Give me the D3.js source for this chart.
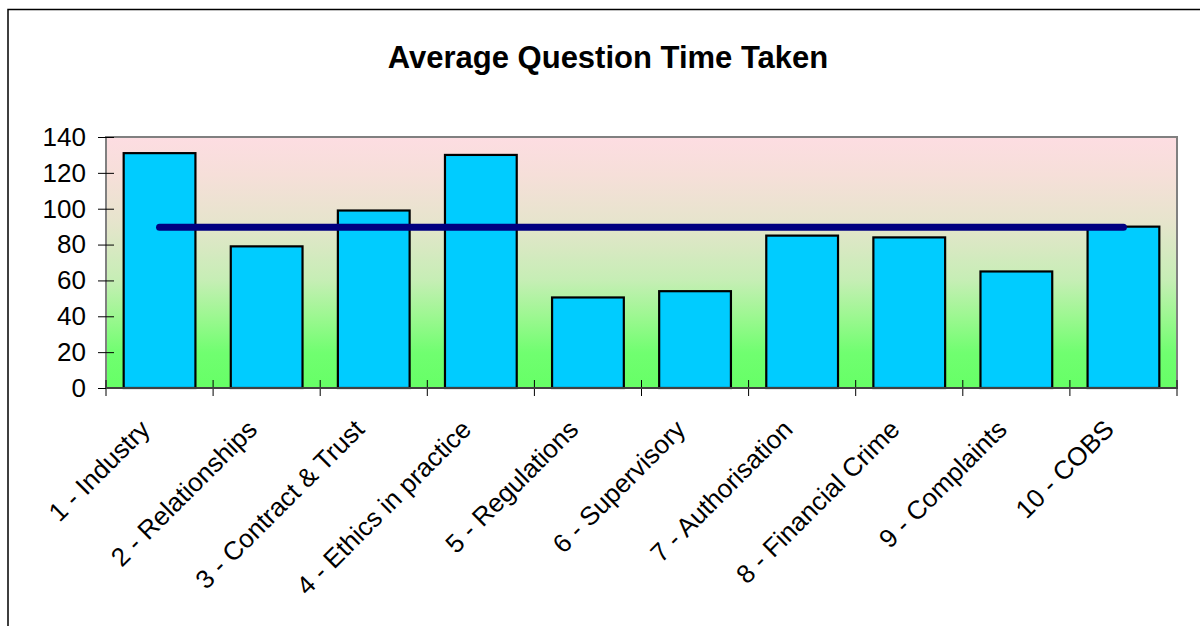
<!DOCTYPE html>
<html>
<head>
<meta charset="utf-8">
<script src="https://cdn.jsdelivr.net/npm/d3@7"></script>
<style>
  html, body { margin: 0; padding: 0; background: #fff; }
  svg { display: block; font-family: "Liberation Sans", Arial, sans-serif; }
</style>
</head>
<body>
<div id="app"></div>
<script>
// chart data
const categories = [
  "1 - Industry", "2 - Relationships", "3 - Contract & Trust", "4 - Ethics in practice",
  "5 - Regulations", "6 - Supervisory", "7 - Authorisation", "8 - Financial Crime",
  "9 - Complaints", "10 - COBS"
];
const timeTaken = [131, 79, 99, 130, 50.5, 54, 85, 84, 65, 90];
const averageTime = 89.6;
const yTicks = [0, 20, 40, 60, 80, 100, 120, 140];

const width = 1200, height = 626;
const plot = { left: 106, top: 137, right: 1177, bottom: 388 };

const svg = d3.select("#app").append("svg")
  .attr("width", width)
  .attr("height", height);

// outer chart frame (cropped on right/bottom like the original)
svg.append("rect")
  .attr("x", 8).attr("y", 9.5)
  .attr("width", 1400).attr("height", 800)
  .attr("fill", "#fff")
  .attr("stroke", "#000")
  .attr("stroke-width", 1.5);

svg.append("text")
  .attr("x", 608).attr("y", 68)
  .attr("text-anchor", "middle")
  .attr("font-size", 31)
  .attr("font-weight", "bold")
  .text("Average Question Time Taken");

const x = d3.scaleBand()
  .domain(categories)
  .range([plot.left, plot.right])
  .paddingInner(0.33)
  .paddingOuter(0.165);

const band = d3.scaleBand().domain(categories).range([plot.left, plot.right]);

const y = d3.scaleLinear().domain([0, 140]).range([plot.bottom, plot.top]);

// gradient background
const grad = svg.append("defs").append("linearGradient")
  .attr("id", "bg").attr("x1", 0).attr("y1", 0).attr("x2", 0).attr("y2", 1);
[
  [0, "#fddde2"], [0.15, "#f6dfd9"], [0.33, "#e7e4cd"], [0.57, "#c6eeb5"],
  [0.71, "#9ef792"], [0.86, "#70fe70"], [1, "#66ff66"]
].forEach(([o, c]) => grad.append("stop").attr("offset", o).attr("stop-color", c));

svg.append("rect")
  .attr("x", plot.left).attr("y", plot.top)
  .attr("width", plot.right - plot.left).attr("height", plot.bottom - plot.top)
  .attr("fill", "url(#bg)")
  .attr("stroke", "#808080")
  .attr("stroke-width", 2);

// bars
svg.append("g")
  .selectAll("rect")
  .data(timeTaken)
  .join("rect")
    .attr("x", (d, i) => x(categories[i]))
    .attr("y", d => y(d))
    .attr("width", x.bandwidth())
    .attr("height", d => y(0) - y(d))
    .attr("fill", "#00ccff")
    .attr("stroke", "#000")
    .attr("stroke-width", 2.2);

// average line
const line = d3.line()
  .x(d => band(d) + band.bandwidth() / 2)
  .y(() => y(averageTime));
svg.append("path")
  .datum([categories[0], categories[categories.length - 1]])
  .attr("d", line)
  .attr("fill", "none")
  .attr("stroke", "#000080")
  .attr("stroke-width", 7)
  .attr("stroke-linecap", "round");

// y axis
const yAxis = svg.append("g")
  .attr("transform", `translate(${plot.left},0)`)
  .call(d3.axisLeft(y).tickValues(yTicks).tickSize(0).tickPadding(20));
yAxis.select(".domain").remove();
yAxis.selectAll("text")
  .attr("font-size", 26)
  .attr("font-family", "Liberation Sans, Arial, sans-serif")
  .attr("fill", "#000");
yAxis.selectAll(".tick").append("line")
  .attr("x1", -8).attr("x2", 8)
  .attr("stroke", "#000").attr("stroke-width", 1);

// x axis ticks at band boundaries
const boundaries = categories.map(c => band(c)).concat([plot.right]);
svg.append("g")
  .selectAll("line")
  .data(boundaries)
  .join("line")
    .attr("x1", d => d).attr("x2", d => d)
    .attr("y1", plot.bottom - 8).attr("y2", plot.bottom + 8)
    .attr("stroke", "#000").attr("stroke-width", 1);

svg.append("line")
  .attr("x1", plot.left).attr("x2", plot.right)
  .attr("y1", plot.bottom).attr("y2", plot.bottom)
  .attr("stroke", "#404040").attr("stroke-width", 2);

// category labels, rotated
svg.append("g")
  .selectAll("text")
  .data(categories)
  .join("text")
    .attr("transform", d => `translate(${band(d) + band.bandwidth() / 2 - 8},431) rotate(-45)`)
    .attr("text-anchor", "end")
    .attr("font-size", 26)
    .text(d => d);
</script>
</body>
</html>
